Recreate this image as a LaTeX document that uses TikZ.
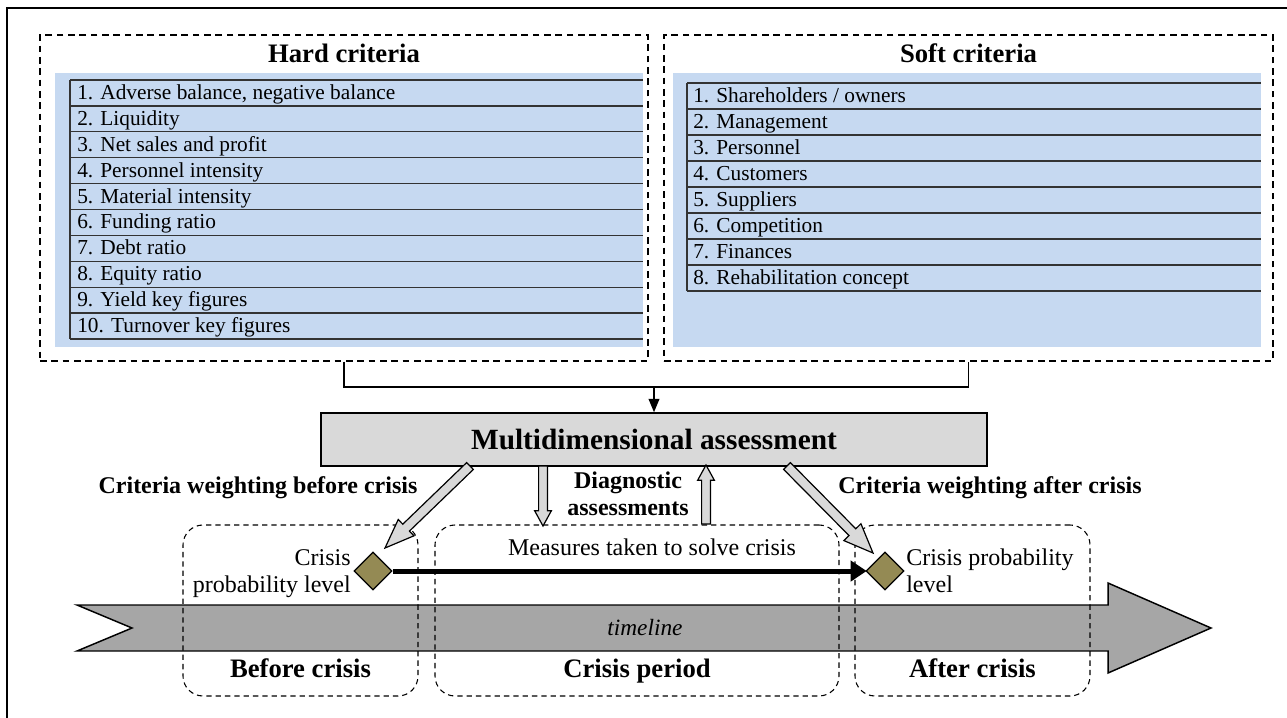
\documentclass[tikz,border=0pt]{standalone}
\usepackage{fontspec}
\setmainfont{Liberation Serif}
\usetikzlibrary{shapes.geometric,arrows.meta,calc,fit}
\definecolor{blu}{HTML}{C6D9F1}
\definecolor{lgray}{HTML}{D9D9D9}
\definecolor{tgray}{HTML}{A6A6A6}
\definecolor{olive}{HTML}{948A54}
\newcommand\blockarr[5]{%
  \coordinate (bh) at ($(#2)!#5!(#1)$);
  \draw[barrow] ($(#1)!#3!90:(#2)$) -- ($(bh)!#3!90:(#2)$) -- ($(bh)!#4!90:(#2)$) -- (#2)
    -- ($(bh)!#4!-90:(#2)$) -- ($(bh)!#3!-90:(#2)$) -- ($(#1)!#3!-90:(#2)$) -- cycle;}
\tikzset{
  bigbox/.style={draw, line width=1.1pt, dash pattern=on 5pt off 3.5pt, inner sep=0pt},
  phase/.style={draw, line width=0.8pt, dash pattern=on 4pt off 3pt, rounded corners=15pt, inner sep=0pt},
  title/.style={font=\fontsize{20}{24}\selectfont\bfseries, inner sep=0pt},
  item/.style={font=\fontsize{16}{19}\selectfont, inner sep=0pt},
  lbl/.style={font=\fontsize{18}{20.25}\selectfont, inner sep=0pt},
  blbl/.style={font=\fontsize{18}{20.25}\selectfont\bfseries, inner sep=0pt},
  rowline/.style={draw=black!80, line width=1pt},
  conn/.style={draw, line width=1.1pt},
  barrow/.style={draw, fill=lgray, line width=0.9pt, line join=miter},
  dia/.style={diamond, draw, fill=olive, line width=0.9pt, minimum width=28.5pt, minimum height=28.5pt, inner sep=0pt},
}
\begin{document}
\begin{tikzpicture}[x=0.75pt,y=-0.75pt]
\useasboundingbox (0,0) rectangle (1287,717);
\clip (0,0) rectangle (1287,717);
% outer frame
\draw[line width=1.5pt] (7,740) -- (7,8) -- (1300,8);
% criteria boxes
\fill[blu] (55,73) rectangle (643,347);
\fill[blu] (673,73) rectangle (1261,347);
\node[bigbox, fit={(40,35) (648,361)}] (hard) {};
\node[bigbox, fit={(664,35) (1273,361)}] (soft) {};
\node[title, anchor=base] (htitle) at (344,63) {Hard criteria};
\node[title, anchor=base] (stitle) at (968.5,63) {Soft criteria};
% hard rows
\draw[rowline] (70,80) -- (643,80);
\draw[rowline] (70,80) -- (70,339);
\foreach \t [count=\i] in {{Adverse balance, negative balance},Liquidity,Net sales and profit,Personnel intensity,Material intensity,Funding ratio,Debt ratio,Equity ratio,Yield key figures,Turnover key figures}{
  \pgfmathsetmacro\yy{80+25.9*\i}
  \draw[rowline] (70,\yy) -- (643,\yy);
  \node[item, anchor=base west] (h\i) at (77,{\yy-6.5}) {\i. \t};
}
% soft rows
\draw[rowline] (687,83) -- (1261,83);
\draw[rowline] (687,83) -- (687,291);
\foreach \t [count=\i] in {Shareholders / owners,Management,Personnel,Customers,Suppliers,Competition,Finances,Rehabilitation concept}{
  \pgfmathsetmacro\yy{83+26*\i}
  \draw[rowline] (687,\yy) -- (1261,\yy);
  \node[item, anchor=base west] (s\i) at (693,{\yy-6.5}) {\i. \t};
}
% multidimensional assessment
\node[draw, fill=lgray, line width=1.1pt, minimum width=499.5pt, minimum height=39.75pt, inner sep=0pt,
      font=\fontsize{22}{26}\selectfont\bfseries] (ma) at (654,439.5) {Multidimensional assessment};
\coordinate (join) at (654,387);
\draw[conn] (hard.south) -- (344,387) -| (soft.south);
\draw[conn, -{Triangle[length=10pt,width=8pt]}] (join) -- (ma.north);
% timeline
\draw[fill=tgray, line width=1.1pt, line join=miter] (77,605) -- (1108,605) -- (1108,583) -- (1211,628) -- (1108,673) -- (1108,651) -- (77,651) -- (132,628) -- cycle;
\node[font=\fontsize{17.5}{20}\selectfont\itshape, inner sep=0pt, anchor=base] (tl) at (645,635) {timeline};
% phase boxes
\node[phase, fit={(183,525) (418,696)}] (before) {};
\node[phase, fit={(435,525) (839,696)}] (period) {};
\node[phase, fit={(855,525) (1090,696)}] (after) {};
\node[title, anchor=base] (tbefore) at (300.5,677) {Before crisis};
\node[title, anchor=base] (tperiod) at (637,677) {Crisis period};
\node[title, anchor=base] (tafter) at (972.5,677) {After crisis};
% diamonds
\node[dia] (dl) at (373,571) {};
\node[dia] (dr) at (885,571) {};
\draw[line width=3.75pt, -{Triangle[length=12pt,width=15pt]}, shorten >=-1pt] (dl.east) -- (dr.west);
\node[lbl, anchor=base east, align=right] (cl1) at (351,592) {Crisis\\probability level};
\node[lbl, anchor=base west, align=left] (cr1) at (906,592) {Crisis probability\\level};
\node[lbl, anchor=base] (meas) at (652,555) {Measures taken to solve crisis};
% labels
\node[blbl, anchor=base] (cwb) at (258,493) {Criteria weighting before crisis};
\node[blbl, anchor=base] (cwa) at (990,493) {Criteria weighting after crisis};
\node[blbl, anchor=base, align=center] (diag) at (628,515) {Diagnostic\\assessments};
% block arrows
\coordinate (la0) at (470,466); \coordinate (la1) at (385,548);
\coordinate (ra0) at (787,466); \coordinate (ra1) at (873,553);
\coordinate (da0) at (543,466); \coordinate (da1) at (543,526);
\coordinate (ua0) at (706,524); \coordinate (ua1) at (706,465);
\blockarr{la0}{la1}{3.6pt}{8.5pt}{22pt}
\blockarr{ra0}{ra1}{3.6pt}{9pt}{22pt}
\blockarr{da0}{da1}{3.3pt}{6.3pt}{11.5pt}
\blockarr{ua0}{ua1}{3.3pt}{6.3pt}{11.5pt}
\end{tikzpicture}
\end{document}
